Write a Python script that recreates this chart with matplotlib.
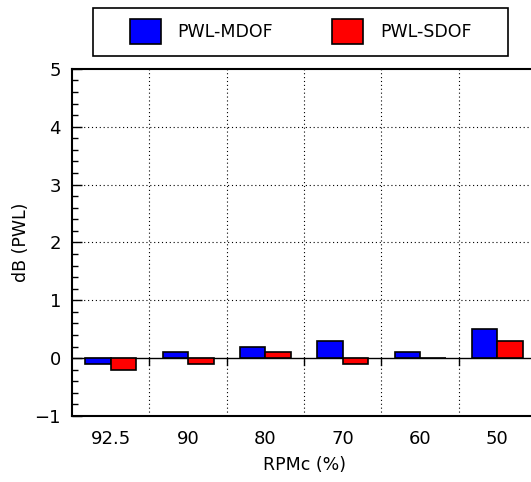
import matplotlib.pyplot as plt
import matplotlib.patches as patches
import numpy as np

# dB (PWL) por rotacao
rpm = ['92.5', '90', '80', '70', '60', '50']
mdof = [-0.1, 0.1, 0.2, 0.3, 0.1, 0.5]
sdof = [-0.2, -0.1, 0.1, -0.1, 0.0, 0.3]

x = np.arange(len(rpm))
w = 0.33

fig = plt.figure(figsize=(5.31, 4.82), dpi=100)
ax = fig.add_axes([0.1356, 0.137, 0.874, 0.72])

ax.bar(x - w/2, mdof, w, color='#0000ff', edgecolor='black', linewidth=1.2, label='PWL-MDOF', zorder=3)
ax.bar(x + w/2, sdof, w, color='#ff0000', edgecolor='black', linewidth=1.2, label='PWL-SDOF', zorder=3)

ax.axhline(0, color='black', linewidth=1.0, zorder=2)

# grade pontilhada
for b in x[:-1] + 0.5:
    ax.axvline(b, color='black', linestyle=(0, (1, 2.5)), linewidth=0.8, zorder=1)
    ax.plot([b, b], [0, -0.12], color='black', linewidth=1.0, zorder=2)
for yy in [1, 2, 3, 4]:
    ax.axhline(yy, color='black', linestyle=(0, (1, 2.5)), linewidth=0.8, zorder=1)

ax.set_xlim(-0.5, len(rpm) - 0.5)
ax.set_ylim(-1, 5)
ax.set_xticks(x)
ax.set_xticklabels(rpm)
ax.set_yticks(range(-1, 6))
ax.set_yticks(np.arange(-1, 5.01, 0.2), minor=True)
ax.tick_params(axis='y', which='major', direction='in', length=7, width=1, labelsize=13, pad=8)
ax.tick_params(axis='y', which='minor', direction='in', length=4, width=1)
ax.tick_params(axis='x', length=0, labelsize=13, pad=10)

for s in ['left', 'bottom', 'top']:
    ax.spines[s].set_linewidth(1.5)
ax.spines['right'].set_visible(False)

ax.set_xlabel('RPMc (%)', fontsize=12.5, labelpad=6)
ax.set_ylabel('dB (PWL)', fontsize=12.5, labelpad=3)

leg = fig.legend(loc='center', bbox_to_anchor=(0.566, 0.934), ncol=2, fontsize=12.5,
                 frameon=False, handlelength=1.8, handleheight=1.85, handletextpad=0.95,
                 columnspacing=3.4, borderaxespad=0, borderpad=0)
fig.patches.append(patches.Rectangle((93/531, 1 - 56/482), 415/531, 48/482,
                                     transform=fig.transFigure, fill=False,
                                     edgecolor='black', linewidth=1.2))

fig.savefig('out.png', dpi=100)
